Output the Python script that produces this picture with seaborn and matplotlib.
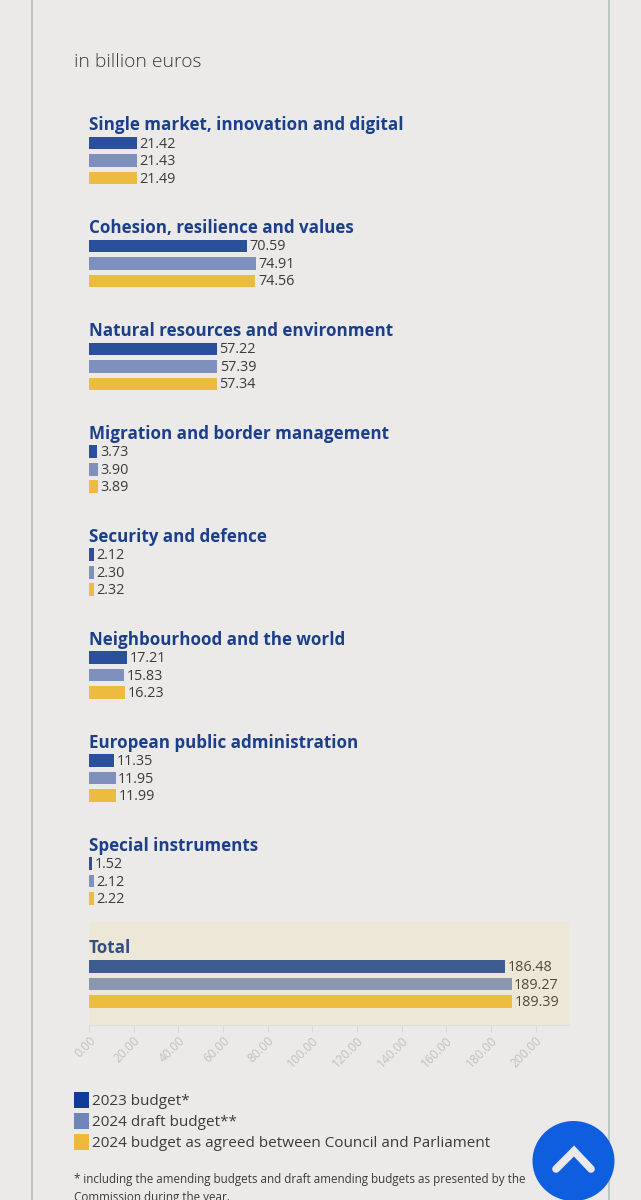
import matplotlib.pyplot as plt
import pandas as pd
import seaborn as sns
from matplotlib.patches import Ellipse, Patch

categories = [
    "Single market, innovation and digital",
    "Cohesion, resilience and values",
    "Natural resources and environment",
    "Migration and border management",
    "Security and defence",
    "Neighbourhood and the world",
    "European public administration",
    "Special instruments",
    "Total",
]
budget_2023 = [21.42, 70.59, 57.22, 3.73, 2.12, 17.21, 11.35, 1.52, 186.48]
draft_2024 = [21.43, 74.91, 57.39, 3.90, 2.30, 15.83, 11.95, 2.12, 189.27]
agreed_2024 = [21.49, 74.56, 57.34, 3.89, 2.32, 16.23, 11.99, 2.22, 189.39]
series_names = [
    "2023 budget*",
    "2024 draft budget**",
    "2024 budget as agreed between Council and Parliament",
]
x_ticks = [0, 20, 40, 60, 80, 100, 120, 140, 160, 180, 200]

BAR_COLORS = ["#2a4f9b", "#7f90bc", "#edbb40"]
LEGEND_COLORS = ["#0f3c96", "#6f84b8", "#efb83a"]
BG = "#ebeae9"
TITLE_COLOR = "#1c3f8a"
TEXT_COLOR = "#3d3a3a"
W, H = 641, 1200

plt.rcParams["font.family"] = ["Open Sans", "DejaVu Sans"]

df = pd.DataFrame(
    {
        "category": categories * 3,
        "series": [s for s in series_names for _ in categories],
        "value": budget_2023 + draft_2024 + agreed_2024,
    }
)

fig = plt.figure(figsize=(W / 100, H / 100), dpi=100, facecolor=BG)

# plot area placed in pixels: x 89..569, y 100..1025
ax = fig.add_axes([89 / W, 1 - 1025 / H, 480 / W, 925 / H], facecolor="none")
sns.barplot(
    data=df,
    y="category",
    x="value",
    hue="series",
    order=categories,
    hue_order=series_names,
    palette=BAR_COLORS,
    width=0.51,
    gap=0.28,
    saturation=1,
    legend=False,
    ax=ax,
)
ax.set_xlim(0, 215)
ax.set_ylim(8.398, -0.587)
ax.set_xlabel("")
ax.set_ylabel("")
ax.set_yticks([])

for container in ax.containers:
    labels = ax.bar_label(container, fmt="%.2f", padding=1.8, fontsize=10.4, color=TEXT_COLOR)
    for label in labels:
        # nudge down a touch, the labels sit slightly low in the original
        label.xyann = (label.xyann[0], label.xyann[1] - 0.8)

for i, name in enumerate(categories):
    ax.annotate(
        name, (0, i), xytext=(0, 25.6), textcoords="offset points",
        fontsize=12.22, fontweight="bold", color=TITLE_COLOR, va="center", ha="left",
    )

# the total row sits under a faint yellow wash
ax.axhspan(len(categories) - 1 - 0.607, ax.get_ylim()[0], color="#ffd63f", alpha=0.1, lw=0, zorder=5)

ax.set_xticks(x_ticks)
ax.set_xticklabels(
    [f"{t:.2f}" for t in x_ticks], rotation=45, ha="right", rotation_mode="anchor",
    fontsize=8.7, color="#c4bfbf",
)
ax.tick_params(axis="x", length=5, width=0.8, color="#dcdad6", pad=1.5)
sns.despine(ax=ax, left=True)
ax.spines["bottom"].set_color("#e2dfd8")

# page furniture in pixel coordinates
page = fig.add_axes([0, 0, 1, 1], facecolor="none")
page.set_xlim(0, W)
page.set_ylim(H, 0)
page.axis("off")
page.axvline(32, color="#b5bdb9", lw=1.2)
page.axvline(608.5, color="#b5c2bd", lw=1.2)
page.text(74, 62, "in billion euros", fontsize=13.9, color=TEXT_COLOR, va="center", fontweight="light")

handles = [Patch(facecolor=c, edgecolor="none") for c in LEGEND_COLORS]
page.legend(
    handles, series_names,
    loc="upper left", bbox_to_anchor=(74 / W, 1 - 1092 / H), bbox_transform=fig.transFigure,
    frameon=False, fontsize=11, labelcolor=TEXT_COLOR,
    handlelength=1, handleheight=1.25, handletextpad=0.2, labelspacing=0.25,
    borderpad=0, borderaxespad=0,
)

page.text(74, 1179, "* including the amending budgets and draft amending budgets as presented by the",
          fontsize=8.35, color=TEXT_COLOR, va="center")
page.text(74, 1197, "Commission during the year.", fontsize=8.35, color=TEXT_COLOR, va="center")

page.add_patch(Ellipse((573.5, 1161), 82, 80, facecolor="#0f5ee0", edgecolor="none", zorder=6))
page.plot([556, 574, 591], [1169, 1151, 1169], color="#ebeae9", lw=5.5, solid_capstyle="round",
          solid_joinstyle="miter", zorder=7)

fig.savefig("out.png", dpi=100, facecolor=BG)
